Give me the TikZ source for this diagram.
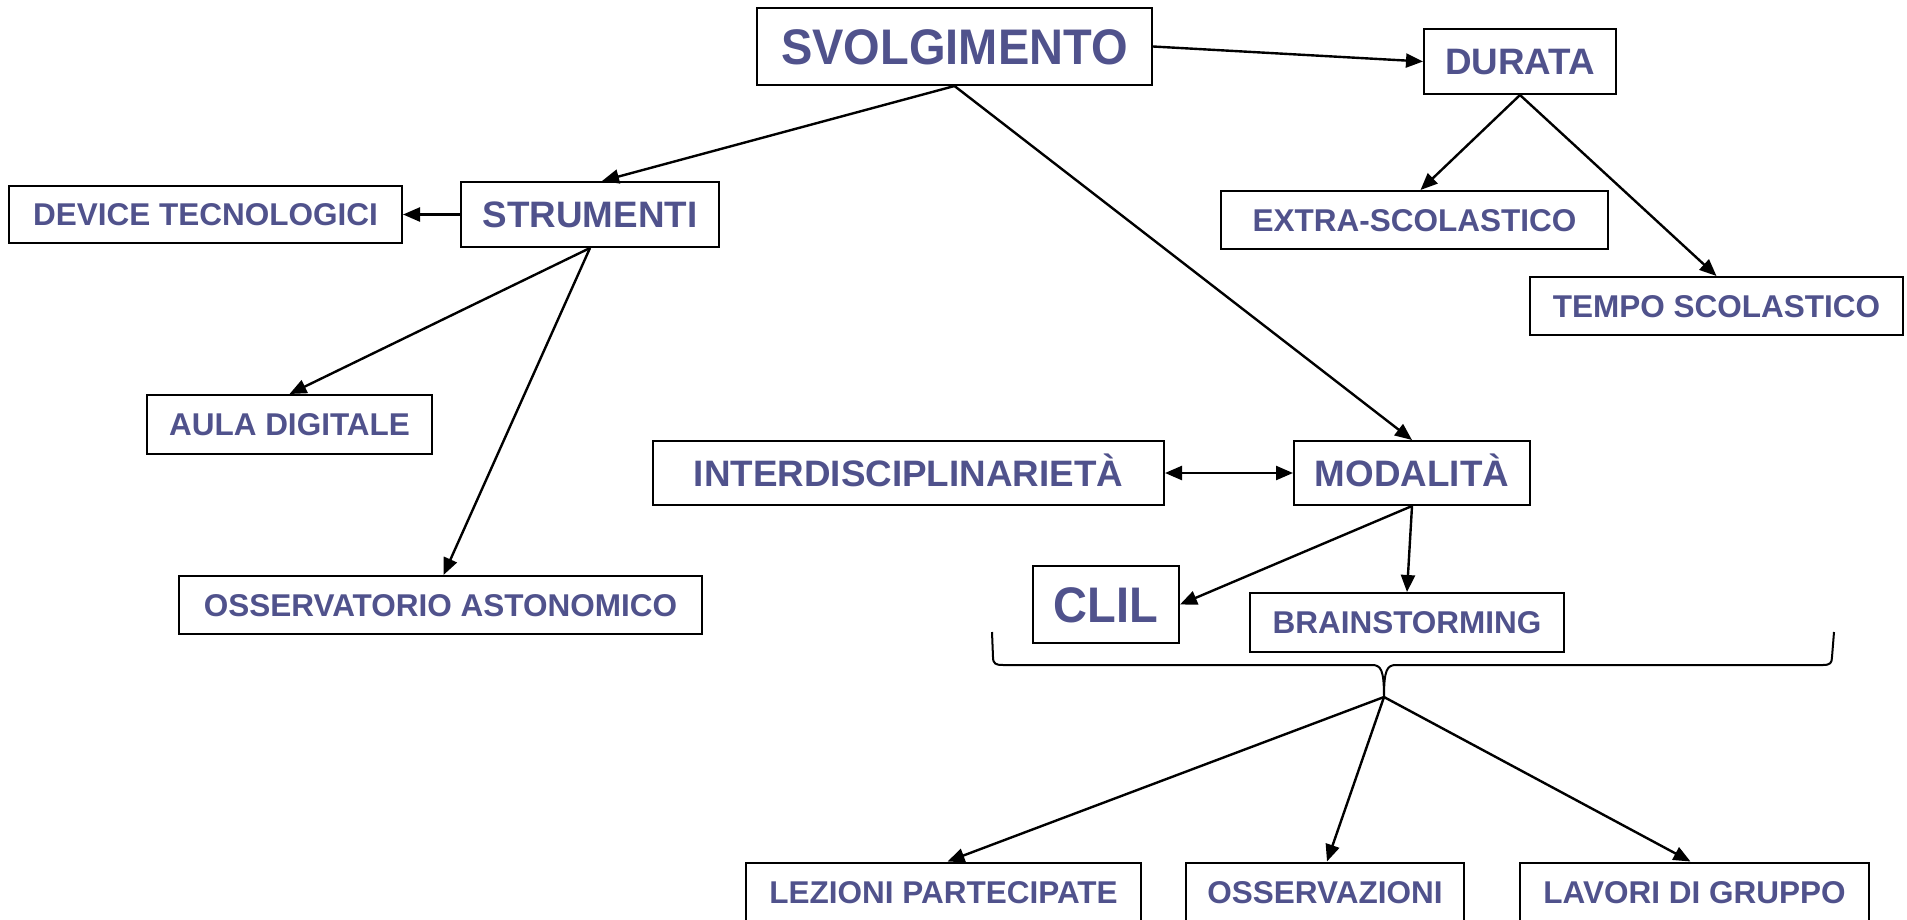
\documentclass[tikz,border=0pt]{standalone}
\usepackage{fontspec}
\setmainfont{Liberation Sans}
\newfontfamily\stretta[FakeStretch=0.94]{Liberation Sans}
\usepackage{tikz}
\usetikzlibrary{arrows.meta}
\definecolor{blutesto}{RGB}{80,82,140}
\tikzstyle{voce} = [rectangle, draw=black, line width=2pt, text=blutesto, inner sep=0pt, text depth=0pt, align=center]
\tikzstyle{piccolo} = [voce, font=\bfseries\fontsize{31.5}{36}\selectfont, text height=22.6pt]
\tikzstyle{medio} = [voce, font=\bfseries\fontsize{36.8}{42}\selectfont, text height=26.4pt]
\tikzstyle{grande} = [voce, font=\stretta\bfseries\fontsize{50}{56}\selectfont, text height=35.8pt]
\tikzstyle{freccia} = [line width=2.4pt, -{Triangle[length=17pt,width=14pt]}]

\begin{document}
\begin{tikzpicture}[x=1pt,y=-1pt]
\useasboundingbox (0,0) rectangle (1907,919);
% livello alto
\node at (954.5,46.5) [grande, minimum width=395pt, minimum height=77pt] (svolg) {SVOLGIMENTO};
\node at (1520,61.5) [medio, minimum width=192pt, minimum height=65pt] (durata) {DURATA};
\node at (590,214.5) [medio, minimum width=258pt, minimum height=65pt] (strum) {STRUMENTI};
\node at (205.5,214.5) [piccolo, minimum width=393pt, minimum height=57pt] (device) {DEVICE TECNOLOGICI};
\node at (1414.5,220) [piccolo, minimum width=387pt, minimum height=58pt] (extra) {EXTRA-SCOLASTICO};
\node at (1716.5,306) [piccolo, minimum width=373pt, minimum height=58pt] (tempo) {TEMPO SCOLASTICO};
% strumenti
\node at (289.5,424.5) [piccolo, minimum width=285pt, minimum height=59pt] (aula) {AULA DIGITALE};
\node at (440.5,605) [piccolo, minimum width=523pt, minimum height=58pt] (osserv) {OSSERVATORIO ASTONOMICO};
% modalita
\node at (908.5,473) [medio, minimum width=511pt, minimum height=64pt] (interd) {INTERDISCIPLINARIETÀ};
\node at (1412,473) [medio, minimum width=236pt, minimum height=64pt] (modal) {MODALITÀ};
\node at (1106,604.5) [grande, minimum width=146pt, minimum height=77pt] (clil) {CLIL};
\node at (1407,622.5) [piccolo, minimum width=314pt, minimum height=59pt] (brain) {BRAINSTORMING};
% riga in basso
\node at (943.5,892) [piccolo, minimum width=395pt, minimum height=59pt] (lezioni) {LEZIONI PARTECIPATE};
\node at (1325,892) [piccolo, minimum width=278pt, minimum height=59pt] (osservaz) {OSSERVAZIONI};
\node at (1694.5,892) [piccolo, minimum width=349pt, minimum height=59pt] (lavori) {LAVORI DI GRUPPO};

% graffa
\coordinate (punta) at (1384,697);
\draw[line width=2pt] (992,632) -- (993,657) .. controls (993,664) and (996,665) .. (1003,665)
  -- (1372,665) .. controls (1381,665) and (1384,670) .. (punta)
  .. controls (1384,670) and (1387,665) .. (1396,665)
  -- (1823,665) .. controls (1830,665) and (1832,663) .. (1832,657) -- (1834,632);

% frecce
\draw[freccia] (svolg.south) -- ([xshift=12pt]strum.north);
\draw[freccia] (svolg.south) -- (modal.north);
\draw[freccia] (svolg.east) -- (durata.west);
\draw[freccia] (durata.south) -- ([xshift=6pt]extra.north);
\draw[freccia] (durata.south) -- (tempo.north);
\draw[freccia] (strum.west) -- (device.east);
\draw[freccia] (strum.south) -- (aula.north);
\draw[freccia] (strum.south) -- ([xshift=3pt]osserv.north);
\draw[line width=2.4pt, {Triangle[length=17pt,width=14pt]}-{Triangle[length=17pt,width=14pt]}] (interd.east) -- (modal.west);
\draw[freccia] (modal.south) -- (clil.east);
\draw[freccia] (modal.south) -- (brain.north);
\draw[freccia] (punta) -- ([xshift=4pt]lezioni.north);
\draw[freccia] (punta) -- ([xshift=2pt]osservaz.north);
\draw[freccia] (punta) -- ([xshift=-4pt]lavori.north);
\end{tikzpicture}
\end{document}
